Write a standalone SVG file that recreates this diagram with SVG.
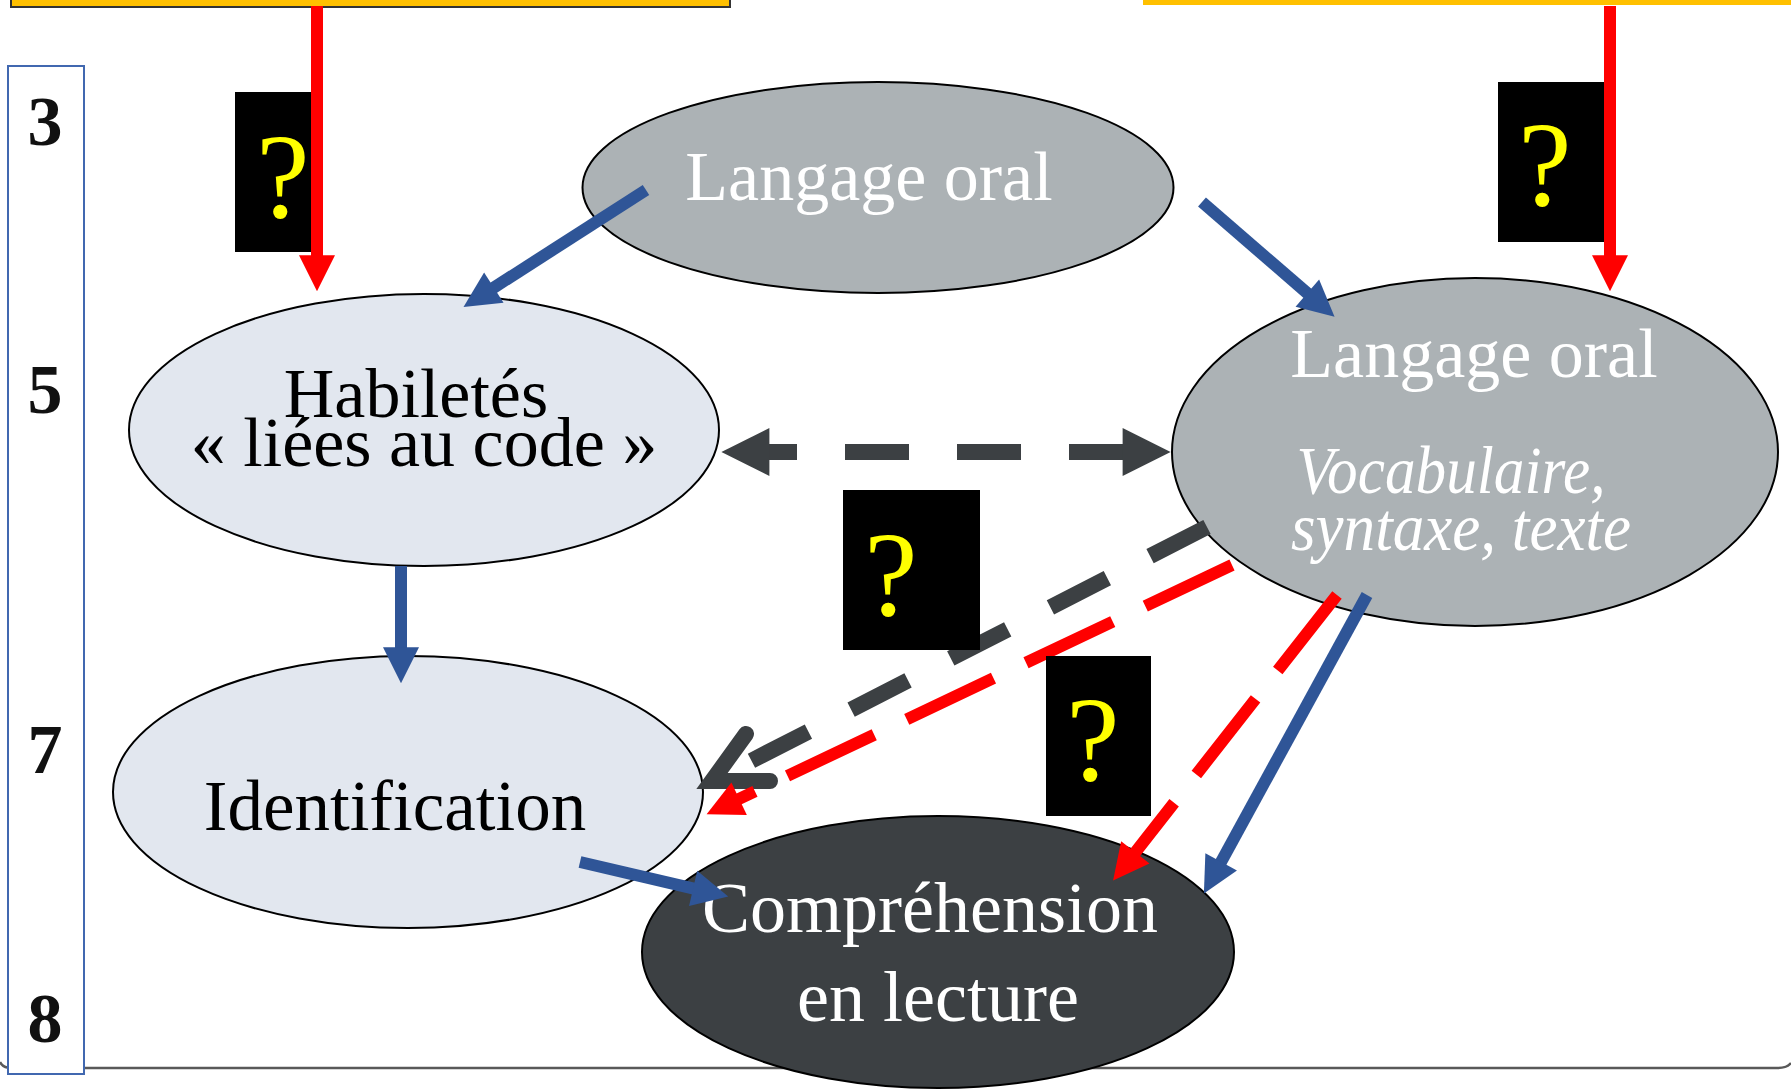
<svg xmlns="http://www.w3.org/2000/svg" width="1791" height="1089" viewBox="0 0 1791 1089">
  <style>
    .node { stroke: #000; stroke-width: 2; }
    .light { fill: #E2E7EF; }
    .mid { fill: #ACB2B5; }
    .dark { fill: #3C4043; }
    .lbl { font-family: "Liberation Serif", "Times New Roman", serif; text-anchor: middle; }
    .blk { fill: #000; }
    .wht { fill: #FFF; }
    .ital { font-style: italic; }
    .num { font-family: "Liberation Serif", "Times New Roman", serif; font-weight: bold; font-size: 70px; text-anchor: middle; fill: #111; }
    .q { font-family: "Liberation Serif", "Times New Roman", serif; font-size: 120px; text-anchor: middle; fill: #FFFF00; }
    .blue { fill: none; stroke: #2F5597; stroke-width: 12; }
    .red { fill: none; stroke: #FF0000; stroke-width: 12; }
    .redDash { stroke-dasharray: 96 36; }
    .grey { fill: none; stroke: #3C4043; stroke-width: 16; }
    .greyDash { stroke-dasharray: 64 48; }
  </style>
  <defs>
    <marker id="hBlue" viewBox="0 0 3 3" refX="0.15" refY="1.5" markerWidth="3" markerHeight="3" markerUnits="strokeWidth" orient="auto" overflow="visible">
      <path d="M0,0 L3,1.5 L0,3 Z" fill="#2F5597"/>
    </marker>
    <marker id="hRed" viewBox="0 0 3 3" refX="0.15" refY="1.5" markerWidth="3" markerHeight="3" markerUnits="strokeWidth" orient="auto" overflow="visible">
      <path d="M0,0 L3,1.5 L0,3 Z" fill="#FF0000"/>
    </marker>
    <marker id="hGrey" viewBox="0 0 3 3" refX="0.15" refY="1.5" markerWidth="3" markerHeight="3" markerUnits="strokeWidth" orient="auto-start-reverse" overflow="visible">
      <path d="M0,0 L3,1.5 L0,3 Z" fill="#3C4043"/>
    </marker>
  </defs>

  <rect width="1791" height="1089" fill="#FFFFFF"/>

  <!-- frame bottom edge -->
  <path d="M0,1062 Q3,1068 12,1068 L1778,1068 Q1787,1068 1791,1063" fill="none" stroke="#595959" stroke-width="2.5"/>

  <!-- age scale -->
  <g id="age-scale">
    <rect x="8" y="66" width="76" height="1008" fill="#FFFFFF" stroke="#4168B0" stroke-width="2"/>
    <text class="num" x="45" y="145">3</text>
    <text class="num" x="45" y="413">5</text>
    <text class="num" x="45" y="773">7</text>
    <text class="num" x="45" y="1042">8</text>
  </g>

  <!-- source boxes along the top edge -->
  <g id="source-left">
    <rect x="11" y="-40" width="719" height="47" fill="#FFC000" stroke="#333" stroke-width="2"/>
  </g>
  <g id="source-right">
    <rect x="1143" y="-40" width="660" height="45" fill="#FFC000"/>
  </g>

  <!-- nodes -->
  <g id="langage-oral-top">
    <ellipse class="node mid" cx="878" cy="187.5" rx="295.5" ry="105.5"/>
    <text class="lbl wht" x="869" y="200" font-size="70">Langage oral</text>
  </g>

  <g id="habiletes">
    <ellipse class="node light" cx="424" cy="430" rx="295" ry="136"/>
    <text class="lbl blk" x="416" y="417" font-size="70">Habiletés</text>
    <text class="lbl blk" x="424" y="466" font-size="70">« liées au code »</text>
  </g>

  <g id="langage-oral-right">
    <ellipse class="node mid" cx="1475" cy="452" rx="303" ry="174"/>
    <text class="lbl wht" x="1474" y="377" font-size="70">Langage oral</text>
    <text class="lbl wht ital" x="1451" y="493" font-size="68" textLength="309" lengthAdjust="spacingAndGlyphs">Vocabulaire,</text>
    <text class="lbl wht ital" x="1461" y="550" font-size="67" textLength="340" lengthAdjust="spacingAndGlyphs">syntaxe, texte</text>
  </g>

  <g id="identification">
    <ellipse class="node light" cx="408" cy="792" rx="295" ry="136"/>
    <text class="lbl blk" x="395" y="830" font-size="71">Identification</text>
  </g>

  <g id="comprehension">
    <ellipse class="node dark" cx="938" cy="952" rx="296" ry="136"/>
    <text class="lbl wht" x="930" y="932" font-size="72">Compréhension</text>
    <text class="lbl wht" x="938" y="1021" font-size="72">en lecture</text>
  </g>

  <!-- connectors -->
  <g id="connectors">
    <path class="red" d="M317,6 V257" marker-end="url(#hRed)"/>
    <path class="red" d="M1610,6 V257" marker-end="url(#hRed)"/>

    <path class="blue" d="M646,190 L492.3,288.6" marker-end="url(#hBlue)"/>
    <path class="blue" d="M1202,202 L1308.7,294.4" marker-end="url(#hBlue)"/>
    <path class="blue" d="M401,566 V649" marker-end="url(#hBlue)"/>
    <path class="blue" d="M580,862 L694.9,888.8" marker-end="url(#hBlue)"/>
    <path class="blue" d="M1367,595 L1220.3,863.4" marker-end="url(#hBlue)"/>

    <path class="grey greyDash" d="M767,452 H1125" stroke-dashoffset="34" marker-start="url(#hGrey)" marker-end="url(#hGrey)"/>

    <path class="grey greyDash" d="M1207,527 L712,781"/>
    <path d="M746,734 L712,781 L770,781" fill="none" stroke="#3C4043" stroke-width="16" stroke-linecap="round" stroke-linejoin="miter"/>

    <path class="red redDash" d="M1232,565 L737.5,799.6" marker-end="url(#hRed)"/>
    <path class="red redDash" d="M1337,595 L1134.2,853.7" marker-end="url(#hRed)"/>
  </g>

  <!-- question marks on the links -->
  <g id="q-left">
    <rect x="235" y="92" width="76" height="160" fill="#000"/>
    <text class="q" x="283" y="217">?</text>
  </g>
  <g id="q-right">
    <rect x="1498" y="82" width="106" height="160" fill="#000"/>
    <text class="q" x="1545" y="205">?</text>
  </g>
  <g id="q-middle">
    <rect x="843" y="490" width="137" height="160" fill="#000"/>
    <text class="q" x="891" y="615">?</text>
  </g>
  <g id="q-lower">
    <rect x="1046" y="656" width="105" height="160" fill="#000"/>
    <text class="q" x="1093" y="780">?</text>
  </g>
</svg>
